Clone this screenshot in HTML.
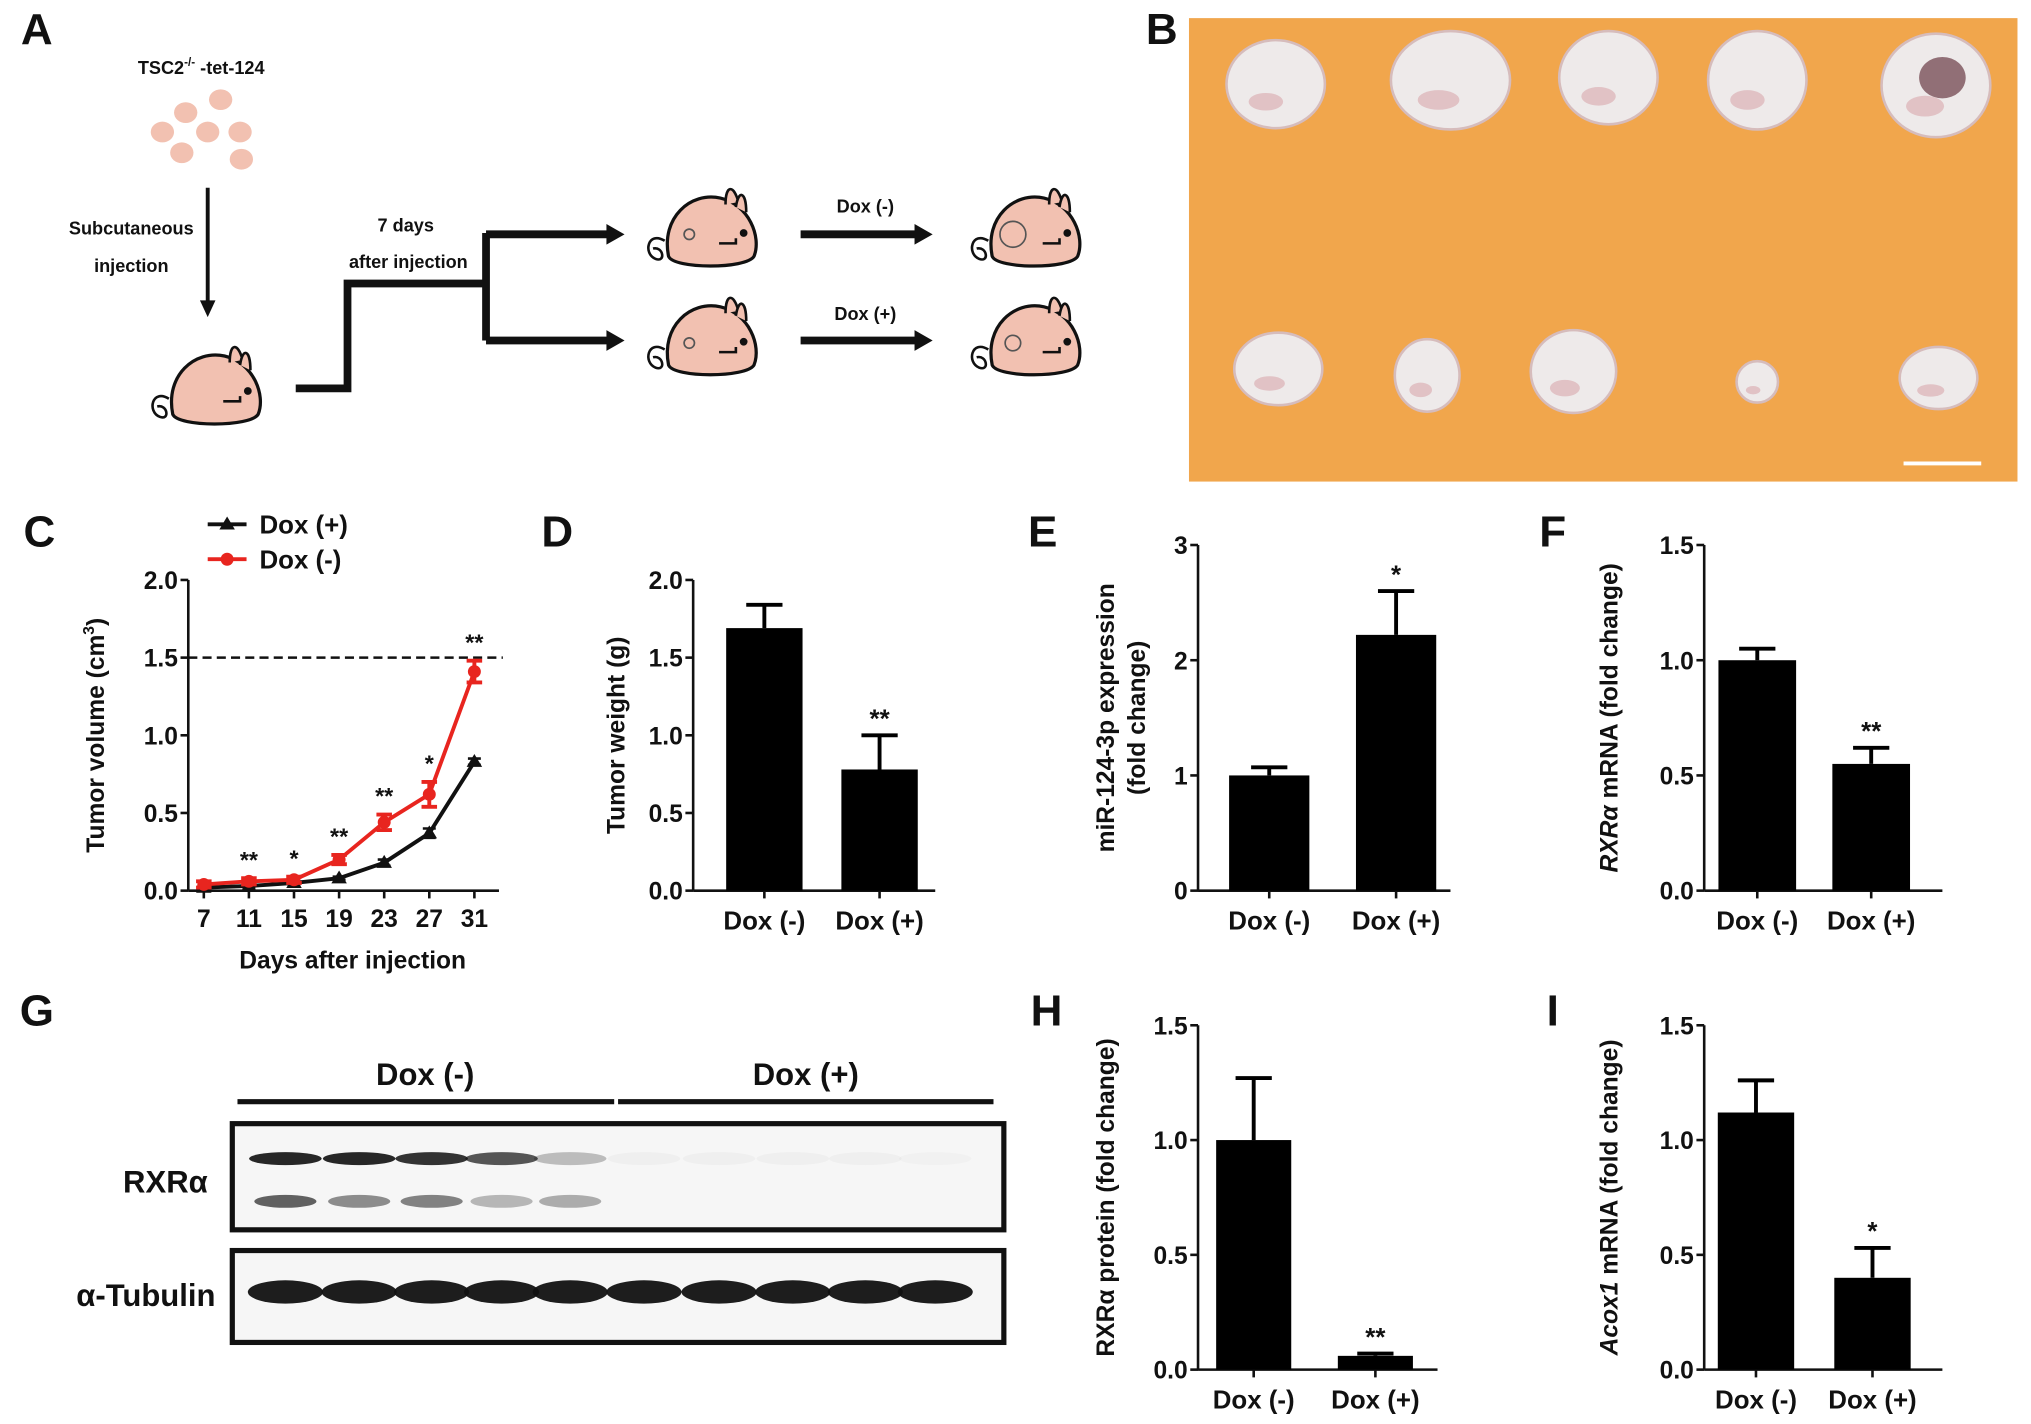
<!DOCTYPE html>
<html><head><meta charset="utf-8">
<style>
html,body{margin:0;padding:0;background:#fff;}
svg{display:block;}
text{font-family:"Liberation Sans",sans-serif;fill:#111;}
</style></head>
<body>
<svg id="fig" width="2031" height="1424" viewBox="0 0 1568 1100" xmlns="http://www.w3.org/2000/svg">
<rect width="1568" height="1100" fill="#fff"/>
<g id="panelA"></g>
<g id="panelB"></g>
<g id="panelC"></g>
<g id="panelD"></g>
<g id="panelE"></g>
<g id="panelF"></g>
<g id="panelG"></g>
<g id="panelH"></g>
<g id="panelI"></g>
</svg>
<script>
// ---------- Chart data ----------
const cDays = [7, 11, 15, 19, 23, 27, 31];
const cDoxMinus = [0.04, 0.06, 0.07, 0.20, 0.44, 0.62, 1.41];
const cDoxMinusErr = [0.02, 0.02, 0.02, 0.03, 0.05, 0.08, 0.07];
const cDoxPlus = [0.02, 0.03, 0.05, 0.08, 0.18, 0.37, 0.83];
const cDoxPlusErr = [0.01, 0.01, 0.01, 0.01, 0.02, 0.03, 0.02];
const cStars = ["", "**", "*", "**", "**", "*", "**"];
const cYTicks = ["0.0", "0.5", "1.0", "1.5", "2.0"];
const cThreshold = 1.5;

const barCategories = ["Dox (-)", "Dox (+)"];
const dValues = [1.69, 0.78];
const dErrors = [0.15, 0.22];
const dStars = ["", "**"];
const dYTicks = ["0.0", "0.5", "1.0", "1.5", "2.0"];

const eValues = [1.0, 2.22];
const eErrors = [0.07, 0.38];
const eStars = ["", "*"];
const eYTicks = ["0", "1", "2", "3"];

const fValues = [1.0, 0.55];
const fErrors = [0.05, 0.07];
const fStars = ["", "**"];
const fYTicks = ["0.0", "0.5", "1.0", "1.5"];

const hValues = [1.0, 0.06];
const hErrors = [0.27, 0.01];
const hStars = ["", "**"];
const hYTicks = ["0.0", "0.5", "1.0", "1.5"];

const iValues = [1.12, 0.40];
const iErrors = [0.14, 0.13];
const iStars = ["", "*"];
const iYTicks = ["0.0", "0.5", "1.0", "1.5"];

// ---------- helpers ----------
const NS = "http://www.w3.org/2000/svg";
function mk(tag, attrs, parent, txt) {
  const e = document.createElementNS(NS, tag);
  for (const k in attrs) e.setAttribute(k, attrs[k]);
  if (txt !== undefined) e.textContent = txt;
  parent.appendChild(e);
  return e;
}
function label(g, letter, x, y) {
  const t = mk("text", {x: x, y: y, "font-size": 34, "font-weight": "bold", "text-anchor": "middle"}, g, letter);
  
  
}

// ---------- Bar chart ----------
function barChart(g, o) {
  const ymax = parseFloat(o.ticks[o.ticks.length - 1]);
  const y = v => o.y0 - (v / ymax) * (o.y0 - o.yTop);
  const ax = mk("g", {}, g);
  
  
  mk("line", {x1: o.ax, y1: o.yTop, x2: o.ax, y2: o.y0, stroke: "#111", "stroke-width": 2}, ax);
  o.ticks.forEach(t => {
    const v = parseFloat(t);
    mk("line", {x1: o.ax - 6, y1: y(v), x2: o.ax, y2: y(v), stroke: "#111", "stroke-width": 2}, ax);
    const tl = mk("text", {x: o.ax - 8, y: y(v) + 7, "font-size": 19, "font-weight": "bold", "text-anchor": "end"}, ax, t);
    
    
  });
  const xa = mk("line", {x1: o.ax, y1: o.y0, x2: o.xEnd, y2: o.y0, stroke: "#111", "stroke-width": 2}, g);
  
  
  o.values.forEach((v, i) => {
    const cx = o.centers[i];
    const bar = mk("rect", {x: cx - o.bw / 2, y: y(v), width: o.bw, height: o.y0 - y(v), fill: "#000"}, g);
    
    
    const top = y(v + o.errors[i]);
    const eb = mk("path", {d: `M${cx},${y(v)}V${top}M${cx - 14},${top}H${cx + 14}`, stroke: "#000", "stroke-width": 3, fill: "none"}, g);
    
    
    mk("line", {x1: cx, y1: o.y0, x2: cx, y2: o.y0 + 6, stroke: "#111", "stroke-width": 2}, g);
    const xl = mk("text", {x: cx, y: o.y0 + 30, "font-size": 20, "font-weight": "bold", "text-anchor": "middle"}, g, barCategories[i]);
    
    
    if (o.stars[i]) {
      const st = mk("text", {x: cx, y: top - 6, "font-size": 20, "font-weight": "bold", "text-anchor": "middle"}, g, o.stars[i]);
      
      
    }
  });
  const cy = (o.yTop + o.y0) / 2;
  o.titles.forEach((tt, k) => {
    const t = mk("text", {x: 0, y: 0, "font-size": 19, "font-weight": "bold", "text-anchor": "middle",
      transform: `translate(${tt.x},${cy}) rotate(-90)`}, g);
    
    
    tt.parts.forEach(p => {
      const s = mk("tspan", p.i ? {"font-style": "italic"} : {}, t, p.t);
    });
  });
}

// Panel D
label(document.getElementById("panelD"), "D", 430, 422);
barChart(document.getElementById("panelD"), {ax: 535, yTop: 448, y0: 688, xEnd: 722, centers: [590, 679], bw: 59,
  values: dValues, errors: dErrors, stars: dStars, ticks: dYTicks,
  titles: [{x: 482, parts: [{t: "Tumor weight (g)"}]}]});
// Panel E
label(document.getElementById("panelE"), "E", 805, 422);
barChart(document.getElementById("panelE"), {ax: 925, yTop: 421, y0: 688, xEnd: 1120, centers: [980, 1078], bw: 62,
  values: eValues, errors: eErrors, stars: eStars, ticks: eYTicks,
  titles: [{x: 860, parts: [{t: "miR-124-3p  expression"}]}, {x: 884, parts: [{t: "(fold change)"}]}]});
// Panel F
label(document.getElementById("panelF"), "F", 1199, 422);
barChart(document.getElementById("panelF"), {ax: 1316, yTop: 421, y0: 688, xEnd: 1500, centers: [1357, 1445], bw: 60,
  values: fValues, errors: fErrors, stars: fStars, ticks: fYTicks,
  titles: [{x: 1249, parts: [{t: "RXRα", i: true}, {t: " mRNA (fold change)"}]}]});
// Panel H
label(document.getElementById("panelH"), "H", 808, 792);
barChart(document.getElementById("panelH"), {ax: 925, yTop: 792, y0: 1058, xEnd: 1110, centers: [968, 1062], bw: 58,
  values: hValues, errors: hErrors, stars: hStars, ticks: hYTicks,
  titles: [{x: 860, parts: [{t: "RXRα  protein (fold change)"}]}]});
// Panel I
label(document.getElementById("panelI"), "I", 1199, 792);
barChart(document.getElementById("panelI"), {ax: 1316, yTop: 792, y0: 1058, xEnd: 1500, centers: [1356, 1446], bw: 59,
  values: iValues, errors: iErrors, stars: iStars, ticks: iYTicks,
  titles: [{x: 1249, parts: [{t: "Acox1", i: true}, {t: " mRNA (fold change)"}]}]});

// ---------- Panel C line chart ----------
(function () {
  const g = document.getElementById("panelC");
  label(g, "C", 30, 422);
  const ax = 145, y0 = 688, yTop = 448, ymax = 2.0;
  const y = v => y0 - v / ymax * (y0 - yTop);
  const x = d => 157 + (d - 7) * (366 - 157) / 24;
  mk("line", {x1: ax, y1: yTop, x2: ax, y2: y0, stroke: "#111", "stroke-width": 2}, g);
  mk("line", {x1: ax, y1: y0, x2: 385, y2: y0, stroke: "#111", "stroke-width": 2}, g);
  cYTicks.forEach(t => {
    const v = parseFloat(t);
    mk("line", {x1: ax - 6, y1: y(v), x2: ax, y2: y(v), stroke: "#111", "stroke-width": 2}, g);
    const tl = mk("text", {x: ax - 8, y: y(v) + 7, "font-size": 19, "font-weight": "bold", "text-anchor": "end"}, g, t);
    
    
  });
  cDays.forEach(d => {
    mk("line", {x1: x(d), y1: y0, x2: x(d), y2: y0 + 6, stroke: "#111", "stroke-width": 2}, g);
    const tl = mk("text", {x: x(d), y: y0 + 28, "font-size": 19, "font-weight": "bold", "text-anchor": "middle"}, g, String(d));
    
    
  });
  const dl = mk("line", {x1: ax, y1: y(cThreshold), x2: 388, y2: y(cThreshold), stroke: "#111", "stroke-width": 2, "stroke-dasharray": "7,4"}, g);
  
  
  const xt = mk("text", {x: 272, y: 748, "font-size": 19, "font-weight": "bold", "text-anchor": "middle"}, g, "Days after injection");
  
  
  const yt = mk("text", {x: 0, y: 0, "font-size": 19, "font-weight": "bold", "text-anchor": "middle", transform: "translate(80,568) rotate(-90)"}, g);
  
  
  mk("tspan", {}, yt, "Tumor volume (cm");
  mk("tspan", {"font-size": 12, dy: -8}, yt, "3");
  mk("tspan", {dy: 8}, yt, ")");
  // Dox(+) series
  const pp = cDays.map((d, i) => `${x(d)},${y(cDoxPlus[i])}`).join(" ");
  const lp = mk("polyline", {points: pp, fill: "none", stroke: "#111", "stroke-width": 3}, g);
  
  
  cDays.forEach((d, i) => {
    const cx = x(d), cy = y(cDoxPlus[i]), e = cDoxPlusErr[i];
    mk("path", {d: `M${cx - 5},${y(cDoxPlus[i] + e)}H${cx + 5}M${cx},${y(cDoxPlus[i] + e)}V${y(cDoxPlus[i] - e)}M${cx - 5},${y(cDoxPlus[i] - e)}H${cx + 5}`, stroke: "#111", "stroke-width": 2}, g);
    const m = mk("polygon", {points: `${cx},${cy - 6} ${cx - 6},${cy + 4} ${cx + 6},${cy + 4}`, fill: "#111"}, g);
    
    
  });
  // Dox(-) series
  const pm = cDays.map((d, i) => `${x(d)},${y(cDoxMinus[i])}`).join(" ");
  const lm = mk("polyline", {points: pm, fill: "none", stroke: "#e8251f", "stroke-width": 3}, g);
  
  
  cDays.forEach((d, i) => {
    const cx = x(d), cy = y(cDoxMinus[i]), e = cDoxMinusErr[i];
    mk("path", {d: `M${cx - 6},${y(cDoxMinus[i] + e)}H${cx + 6}M${cx},${y(cDoxMinus[i] + e)}V${y(cDoxMinus[i] - e)}M${cx - 6},${y(cDoxMinus[i] - e)}H${cx + 6}`, stroke: "#e8251f", "stroke-width": 3}, g);
    const m = mk("circle", {cx: cx, cy: cy, r: 5, fill: "#e8251f"}, g);
    
    
    if (cStars[i]) {
      const st = mk("text", {x: cx, y: y(cDoxMinus[i] + e) - 8, "font-size": 18, "font-weight": "bold", "text-anchor": "middle"}, g, cStars[i]);
      
      
    }
  });
  // legend
  const lg = mk("g", {}, g);
  
  
  mk("line", {x1: 160, y1: 405, x2: 190, y2: 405, stroke: "#111", "stroke-width": 3}, lg);
  mk("polygon", {points: "175,399 169,409 181,409", fill: "#111"}, lg);
  mk("text", {x: 200, y: 412, "font-size": 20, "font-weight": "bold"}, lg, "Dox (+)");
  mk("line", {x1: 160, y1: 432, x2: 190, y2: 432, stroke: "#e8251f", "stroke-width": 3}, lg);
  mk("circle", {cx: 175, cy: 432, r: 5, fill: "#e8251f"}, lg);
  mk("text", {x: 200, y: 439, "font-size": 20, "font-weight": "bold"}, lg, "Dox (-)");
})();

// ---------- Panel A schematic ----------
(function () {
  const g = document.getElementById("panelA");
  label(g, "A", 28, 34);
  const t = mk("text", {x: 155, y: 57, "font-size": 14, "font-weight": "bold", "text-anchor": "middle"}, g);
  
  
  mk("tspan", {}, t, "TSC2");
  mk("tspan", {"font-size": 9, dy: -6}, t, "-/-");
  mk("tspan", {dy: 6}, t, " -tet-124");
  [[170, 77], [143, 87], [125, 102], [160, 102], [185, 102], [140, 118], [186, 123]].forEach(c => {
    mk("ellipse", {cx: c[0], cy: c[1], rx: 9, ry: 8, fill: "#f2c1b1"}, g);
  });
  mk("line", {x1: 160, y1: 145, x2: 160, y2: 235, stroke: "#111", "stroke-width": 3}, g);
  mk("polygon", {points: "154,232 166,232 160,245", fill: "#111"}, g);
  mk("text", {x: 101, y: 181, "font-size": 14, "font-weight": "bold", "text-anchor": "middle"}, g, "Subcutaneous");
  mk("text", {x: 101, y: 210, "font-size": 14, "font-weight": "bold", "text-anchor": "middle"}, g, "injection");
  mk("path", {d: "M228,300H268V219H375M375,180V263", stroke: "#111", "stroke-width": 6, fill: "none"}, g);
  mk("path", {d: "M375,181H470M375,263H470", stroke: "#111", "stroke-width": 6}, g);
  mk("polygon", {points: "468,173 482,181 468,189", fill: "#111"}, g);
  mk("polygon", {points: "468,255 482,263 468,271", fill: "#111"}, g);
  mk("text", {x: 313, y: 179, "font-size": 14, "font-weight": "bold", "text-anchor": "middle"}, g, "7 days");
  mk("text", {x: 315, y: 207, "font-size": 14, "font-weight": "bold", "text-anchor": "middle"}, g, "after injection");
  mk("path", {d: "M618,181H708M618,263H708", stroke: "#111", "stroke-width": 6}, g);
  mk("polygon", {points: "706,173 720,181 706,189", fill: "#111"}, g);
  mk("polygon", {points: "706,255 720,263 706,271", fill: "#111"}, g);
  mk("text", {x: 668, y: 164, "font-size": 14, "font-weight": "bold", "text-anchor": "middle"}, g, "Dox (-)");
  mk("text", {x: 668, y: 247, "font-size": 14, "font-weight": "bold", "text-anchor": "middle"}, g, "Dox (+)");
  function mouse(cx, cy, tr) {
    const m = mk("g", {transform: `translate(${cx},${cy})`}, g);
    
    
    mk("path", {d: "M-35,8 C-48,0 -52,18 -42,22 C-34,25 -36,12 -44,14", stroke: "#111", "stroke-width": 2, fill: "none"}, m);
    mk("path", {d: "M-32,20 C-38,-10 -15,-30 8,-25 C30,-20 40,5 34,20 C28,30 -28,30 -32,20Z", fill: "#f2c1b1", stroke: "#111", "stroke-width": 2.5}, m);
    mk("path", {d: "M12,-20 C12,-35 18,-36 22,-22", fill: "#f2c1b1", stroke: "#111", "stroke-width": 2}, m);
    mk("path", {d: "M20,-18 C22,-32 28,-30 28,-14", fill: "#f2c1b1", stroke: "#111", "stroke-width": 2}, m);
    mk("circle", {cx: 26, cy: 2, r: 3, fill: "#111"}, m);
    mk("path", {d: "M7,10 H20 V6", stroke: "#111", "stroke-width": 2, fill: "none"}, m);
    if (tr) mk("ellipse", {cx: -16, cy: 3, rx: tr, ry: tr, fill: "none", stroke: "#555", "stroke-width": 1.3}, m);
  }
  mouse(165, 300, 0);
  mouse(548, 178, 4);
  mouse(548, 262, 4);
  mouse(798, 178, 10);
  mouse(798, 262, 6);
})();

// ---------- Panel B photo ----------
(function () {
  const g = document.getElementById("panelB");
  label(g, "B", 897, 34);
  const bg = mk("rect", {x: 918, y: 14, width: 640, height: 358, fill: "#f1a64c"}, g);
  
  
  const tumors = [[985, 65, 38, 34], [1120, 62, 46, 38], [1242, 60, 38, 36], [1357, 62, 38, 38], [1495, 66, 42, 40],
    [987, 285, 34, 28], [1102, 290, 25, 28], [1215, 287, 33, 32], [1357, 295, 16, 16], [1497, 292, 30, 24]];
  tumors.forEach(t => {
    const e = mk("ellipse", {cx: t[0], cy: t[1], rx: t[2], ry: t[3], fill: "#eeeaea", stroke: "#d6bcbc", "stroke-width": 2}, g);
    
    
    mk("ellipse", {cx: t[0] - t[2] * 0.2, cy: t[1] + t[3] * 0.4, rx: t[2] * 0.35, ry: t[3] * 0.2, fill: "#d9a6ab", opacity: 0.6}, g);
  });
  mk("ellipse", {cx: 1500, cy: 60, rx: 18, ry: 16, fill: "#6a3a44", opacity: 0.7}, g);
  const sb = mk("line", {x1: 1470, y1: 358, x2: 1530, y2: 358, stroke: "#fff", "stroke-width": 3}, g);
  
  
})();

// ---------- Panel G western blot ----------
(function () {
  const g = document.getElementById("panelG");
  label(g, "G", 28, 792);
  mk("text", {x: 328, y: 838, "font-size": 24, "font-weight": "bold", "text-anchor": "middle"}, g, "Dox (-)");
  mk("text", {x: 622, y: 838, "font-size": 24, "font-weight": "bold", "text-anchor": "middle"}, g, "Dox (+)");
  mk("line", {x1: 183, y1: 851, x2: 474, y2: 851, stroke: "#111", "stroke-width": 4}, g);
  mk("line", {x1: 477, y1: 851, x2: 767, y2: 851, stroke: "#111", "stroke-width": 4}, g);
  const l1 = mk("text", {x: 160, y: 921, "font-size": 24, "font-weight": "bold", "text-anchor": "end"}, g, "RXRα");
  
  
  const l2 = mk("text", {x: 166, y: 1009, "font-size": 24, "font-weight": "bold", "text-anchor": "end"}, g, "α-Tubulin");
  
  
  const b1 = mk("rect", {x: 179, y: 868, width: 596, height: 82, fill: "#f6f6f6", stroke: "#111", "stroke-width": 4}, g);
  
  
  const b2 = mk("rect", {x: 179, y: 966, width: 596, height: 71, fill: "#f6f6f6", stroke: "#111", "stroke-width": 4}, g);
  
  
  const lanes = [220, 277, 333, 387, 440, 497, 555, 612, 668, 722];
  const upper = [0.9, 0.9, 0.85, 0.7, 0.25, 0.03, 0.03, 0.03, 0.03, 0.02];
  const lower = [0.7, 0.5, 0.55, 0.3, 0.35, 0, 0, 0, 0, 0];
  lanes.forEach((x, i) => {
    mk("ellipse", {cx: x, cy: 895, rx: 28, ry: 5, fill: "#111", opacity: upper[i]}, g);
    if (lower[i]) mk("ellipse", {cx: x, cy: 928, rx: 24, ry: 5, fill: "#222", opacity: lower[i]}, g);
    mk("ellipse", {cx: x, cy: 998, rx: 29, ry: 9, fill: "#111", opacity: 0.95}, g);
  });
})();
</script>
</body></html>
